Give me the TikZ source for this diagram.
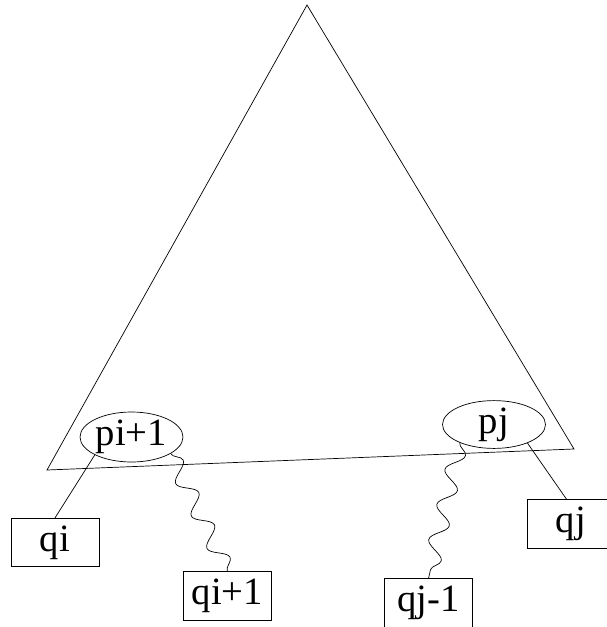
\documentclass[tikz,border=0pt]{standalone}
\usepackage{fontspec}
\setmainfont{Liberation Serif}
\usetikzlibrary{shapes.geometric,decorations.pathmorphing}

\begin{document}
\begin{tikzpicture}[x=0.02cm, y=-0.02cm, font=\fontsize{22}{26}\selectfont,
    qbox/.style={draw, inner sep=0pt, minimum width=1.76cm, minimum height=0.97cm},
    pblob/.style={draw, ellipse, inner sep=0pt, minimum width=2.06cm},
    wavy/.style={decorate, decoration={snake, amplitude=0.17cm, segment length=0.72cm}}]
      \useasboundingbox (0,0) rectangle (607,627);
      \draw (307,5) -- (47,470) -- (574,449) -- cycle;
      \node[pblob, minimum height=1cm] (pi) at (131.5,437) {pi+1};
      \node[pblob, minimum height=0.86cm] (pj) at (494,424.5) {pj};
      \node[qbox] (qi) at (55,542.5) {qi};
      \node[qbox] (qii) at (227.5,596) {qi+1};
      \node[qbox] (qj) at (571,524) {qj};
      \node[qbox] (qjj) at (428.5,603) {qj-1};
      \draw (pi.206) -- (qi.north);
      \draw (pj.331) -- (qj.100);
      \draw[wavy] (pi.337) -- (qii.north);
      \draw[wavy] (pj.208) -- (qjj.north);
    \end{tikzpicture}
\end{document}
